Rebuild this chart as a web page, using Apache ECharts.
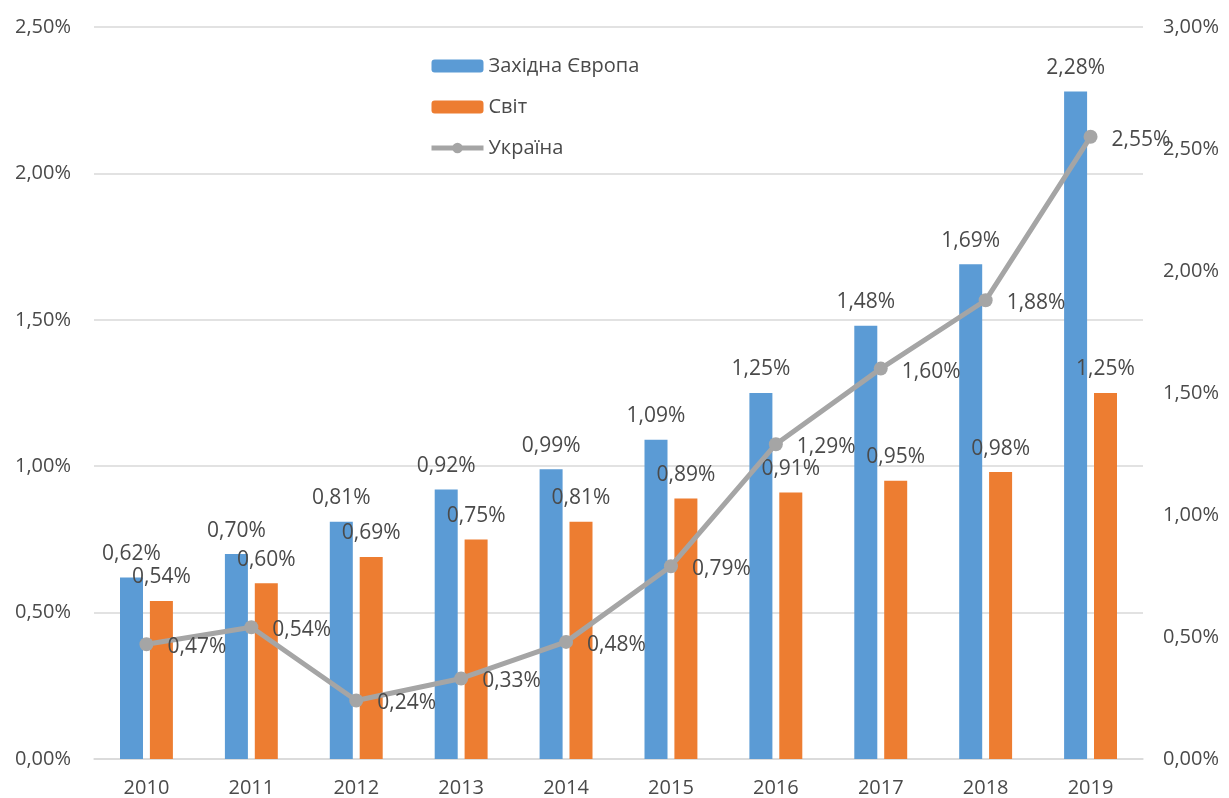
<!DOCTYPE html>
<html>
<head>
<meta charset="utf-8">
<script src="https://cdn.jsdelivr.net/npm/echarts@6/dist/echarts.min.js"></script>
<style>
html,body{margin:0;padding:0;background:#fff;}
#chart{width:1229px;height:798px;}
</style>
</head>
<body>
<div id="chart"></div>
<script>
var years = ['2010','2011','2012','2013','2014','2015','2016','2017','2018','2019'];
var westEurope = [0.62, 0.70, 0.81, 0.92, 0.99, 1.09, 1.25, 1.48, 1.69, 2.28];
var world = [0.54, 0.60, 0.69, 0.75, 0.81, 0.89, 0.91, 0.95, 0.98, 1.25];
var ukraine = [0.47, 0.54, 0.24, 0.33, 0.48, 0.79, 1.29, 1.60, 1.88, 2.55];

var fontFam = '"Open Sans", "Noto Sans", sans-serif';
var txtColor = '#4a4a4a';
var fs = 21;

// формат 0,62%
function pct(v) {
    return Number(v).toFixed(2).replace('.', ',') + '%';
}

var chart = echarts.init(document.getElementById('chart'));
var option = {
    animation: false,
    textStyle: {fontFamily: fontFam},
    legend: {
        orient: 'vertical',
        left: 424,
        top: 51,
        itemWidth: 52,
        itemHeight: 13,
        itemGap: 21,
        textStyle: {fontSize: fs - 1, color: txtColor, fontFamily: fontFam},
        data: ['Західна Європа', 'Світ', {name: 'Україна', lineStyle: {width: 5}}]
    },
    grid: {left: 94, right: 86, top: 27, bottom: 39},
    xAxis: {
        type: 'category',
        data: years,
        axisLine: {lineStyle: {color: '#D9D9D9', width: 1.5}},
        axisTick: {show: false},
        axisLabel: {color: txtColor, fontSize: fs - 1, margin: 19, fontFamily: fontFam}
    },
    yAxis: [{
        type: 'value',
        min: 0,
        max: 2.5,
        interval: 0.5,
        axisLine: {show: false},
        axisTick: {show: false},
        splitLine: {lineStyle: {color: '#D9D9D9', width: 1.5}},
        axisLabel: {color: txtColor, fontSize: fs - 1, margin: 23, fontFamily: fontFam, formatter: pct}
    }, {
        type: 'value',
        min: 0,
        max: 3,
        interval: 0.5,
        axisLine: {show: false},
        axisTick: {show: false},
        splitLine: {show: false},
        axisLabel: {color: txtColor, fontSize: fs - 1, margin: 20, fontFamily: fontFam, formatter: pct}
    }],
    series: [{
        name: 'Західна Європа',
        type: 'bar',
        data: westEurope,
        barWidth: 23,
        barGap: '30%',
        itemStyle: {color: '#5B9BD5'},
        label: {
            show: true,
            position: 'top',
            distance: 13,
            color: txtColor,
            fontSize: fs,
            fontFamily: fontFam,
            formatter: function (p) { return pct(p.value); }
        }
    }, {
        name: 'Світ',
        type: 'bar',
        data: world,
        barWidth: 23,
        itemStyle: {color: '#ED7D31'},
        label: {
            show: true,
            position: 'top',
            distance: 13,
            color: txtColor,
            fontSize: fs,
            fontFamily: fontFam,
            formatter: function (p) { return pct(p.value); }
        }
    }, {
        name: 'Україна',
        type: 'line',
        yAxisIndex: 1,
        data: ukraine,
        symbol: 'circle',
        symbolSize: 14,
        lineStyle: {color: '#A5A5A5', width: 5},
        itemStyle: {color: '#A5A5A5'},
        z: 5,
        label: {
            show: true,
            position: 'right',
            distance: 14,
            offset: [0, 3],
            color: txtColor,
            fontSize: fs,
            fontFamily: fontFam,
            formatter: function (p) { return pct(p.value); }
        }
    }]
};
chart.setOption(option);
</script>
</body>
</html>
